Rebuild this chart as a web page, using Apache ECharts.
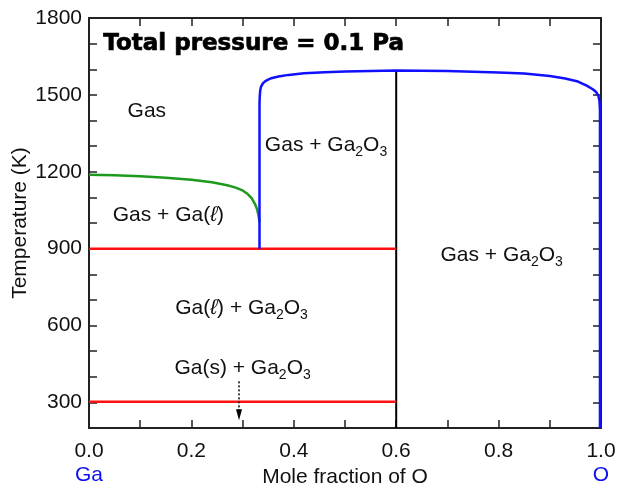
<!DOCTYPE html>
<html>
<head>
<meta charset="utf-8">
<script src="https://cdn.jsdelivr.net/npm/echarts@6/dist/echarts.min.js"></script>
<style>
  html, body { margin: 0; padding: 0; background: #fff; }
  #chart { width: 617px; height: 489px; }
</style>
</head>
<body>
<div id="chart"></div>
<script>
// Ga–O phase diagram at a total pressure of 0.1 Pa

// Axis ranges and labelled ticks
const xRange = [0, 1];
const tRange = [200, 1800];
const tLabelTicks = [300, 600, 900, 1200, 1500, 1800];
const xLabelTicks = [0, 0.2, 0.4, 0.6, 0.8, 1.0];

// Invariant (three-phase) lines, x = mole fraction of O, T in K
const eutecticUpper = [[0, 900], [0.6, 900]];
const eutecticLower = [[0, 302], [0.6, 302]];
const ga2o3Line = [[0.6, 200], [0.6, 1595]];

// Gas / Gas + Ga(l) boundary
const gaDewCurve = [
  [0.000, 1188], [0.050, 1186], [0.100, 1182], [0.150, 1177], [0.200, 1169],
  [0.240, 1159], [0.270, 1147], [0.285, 1139], [0.300, 1127], [0.310, 1113],
  [0.318, 1096], [0.324, 1075], [0.328, 1055], [0.331, 1030], [0.333, 1005]
];

// Gas / Gas + Ga2O3 boundary
const oxideCurve = [
  [0.333, 900], [0.333, 1300], [0.333, 1460], [0.3335, 1495], [0.3345, 1518],
  [0.336, 1532], [0.340, 1546], [0.346, 1556], [0.356, 1565], [0.370, 1572],
  [0.390, 1578], [0.420, 1584], [0.460, 1588], [0.500, 1591], [0.550, 1593],
  [0.600, 1595], [0.650, 1594], [0.700, 1593], [0.750, 1590], [0.800, 1587],
  [0.850, 1583], [0.900, 1574], [0.930, 1564], [0.955, 1552], [0.972, 1536],
  [0.984, 1522], [0.991, 1510], [0.995, 1496], [0.997, 1476], [0.998, 1440],
  [0.998, 1300], [0.998, 200]
];

// Arrow marking the Ga melting point region
const meltArrow = [[0.293, 382], [0.293, 252]];

// Phase-field annotations: [x, T, text]
const fieldLabels = [
  [0.113, 1437, '{t|Gas}'],
  [0.463, 1304, '{t|Gas + Ga}{s|2}{t|O}{s|3}'],
  [0.155, 1030, '{t|Gas + Ga(}{i|ℓ}{t|)}'],
  [0.298, 668, '{t|Ga(}{i|ℓ}{t|) + Ga}{s|2}{t|O}{s|3}'],
  [0.300, 434, '{t|Ga(s) + Ga}{s|2}{t|O}{s|3}'],
  [0.806, 876, '{t|Gas + Ga}{s|2}{t|O}{s|3}']
];

const titleText = 'Total pressure = 0.1 Pa';
const xName = 'Mole fraction of O';
const tName = 'Temperature (K)';
const endMembers = { 0: 'Ga', 1: 'O' };

const FONT = '"Liberation Sans", Arial, sans-serif';
const AXIS_COLOR = '#222';
const TEXT_COLOR = '#111';

const chart = echarts.init(document.getElementById('chart'), null, { renderer: 'canvas' });

function lineSeries(data, color, width) {
  return {
    type: 'line', data, showSymbol: false, symbol: 'none', smooth: false,
    lineStyle: { color, width }, silent: true, animation: false, z: 3
  };
}

const baseAxis = {
  axisLine: { show: true, onZero: false, lineStyle: { color: AXIS_COLOR, width: 2 } },
  axisTick: { show: true, inside: true, length: 8, lineStyle: { color: AXIS_COLOR, width: 1.5 } },
  splitLine: { show: false }
};

// Main text plus a dropped subscript for the oxide formula
const subRich = {
  t: { fontSize: 21, fontFamily: FONT, color: TEXT_COLOR, lineHeight: 28 },
  i: { fontSize: 21, fontFamily: FONT, fontStyle: 'italic', color: TEXT_COLOR, lineHeight: 28 },
  s: { fontSize: 14, fontFamily: FONT, color: TEXT_COLOR, lineHeight: 11, verticalAlign: 'bottom' }
};

chart.setOption({
  animation: false,
  backgroundColor: '#fff',
  grid: { left: 89, right: 16, top: 18, bottom: 61, containLabel: false, outerBoundsMode: 'none' },
  graphic: [{
    type: 'text', left: 103, top: 32,
    style: {
      text: titleText, font: 'bold 23px "DejaVu Sans", sans-serif',
      fill: '#000', stroke: '#000', lineWidth: 0.7
    }
  }],
  xAxis: [
    Object.assign({}, baseAxis, {
      type: 'value', position: 'bottom', min: xRange[0], max: xRange[1], interval: 0.1,
      name: xName, nameLocation: 'middle', nameGap: 39, nameMoveOverlap: false,
      nameTextStyle: { fontSize: 21, fontFamily: FONT, color: TEXT_COLOR },
      axisLabel: {
        margin: 11, fontSize: 21, fontFamily: FONT, color: TEXT_COLOR, lineHeight: 24,
        formatter: v => {
          const r = Math.round(v * 10) / 10;
          if (!xLabelTicks.some(t => Math.abs(t - r) < 1e-6)) return '';
          const txt = r.toFixed(1);
          return endMembers[r] ? txt + '\n{el|' + endMembers[r] + '}' : txt;
        },
        rich: { el: { fontSize: 21, fontFamily: FONT, color: '#1010ee', lineHeight: 24 } }
      }
    }),
    Object.assign({}, baseAxis, {
      type: 'value', position: 'top', min: xRange[0], max: xRange[1], interval: 0.1,
      axisLabel: { show: false }
    })
  ],
  yAxis: [
    Object.assign({}, baseAxis, {
      type: 'value', position: 'left', min: tRange[0], max: tRange[1], interval: 100,
      name: tName, nameLocation: 'middle', nameGap: 58, nameRotate: 90, nameMoveOverlap: false,
      nameTextStyle: { fontSize: 21, fontFamily: FONT, color: TEXT_COLOR },
      axisLabel: {
        margin: 7, fontSize: 21, fontFamily: FONT, color: TEXT_COLOR,
        formatter: v => tLabelTicks.includes(Math.round(v)) ? String(Math.round(v)) : ''
      }
    }),
    Object.assign({}, baseAxis, {
      type: 'value', position: 'right', min: tRange[0], max: tRange[1], interval: 100,
      axisLabel: { show: false }
    })
  ],
  series: [
    lineSeries(ga2o3Line, '#000', 2),
    lineSeries(eutecticUpper, '#ff1010', 2.5),
    lineSeries(eutecticLower, '#ff1010', 2.5),
    lineSeries(gaDewCurve, '#1d9a1d', 2.5),
    lineSeries(oxideCurve, '#1010ff', 2.5),
    {
      type: 'line', data: [], silent: true, animation: false,
      markLine: {
        silent: true, animation: false, symbol: ['none', 'triangle'], symbolSize: [6, 11],
        label: { show: false },
        lineStyle: { color: '#000', width: 1.5, type: [2, 2] },
        data: [[{ coord: meltArrow[0] }, { coord: meltArrow[1] }]]
      }
    },
    {
      type: 'scatter', symbolSize: 0, silent: true, animation: false, z: 5,
      itemStyle: { opacity: 1 },
      data: fieldLabels.map(d => ({ value: [d[0], d[1]], name: d[2] })),
      label: {
        show: true, position: 'inside', formatter: p => p.name, rich: subRich
      }
    }
  ]
});
</script>
</body>
</html>
